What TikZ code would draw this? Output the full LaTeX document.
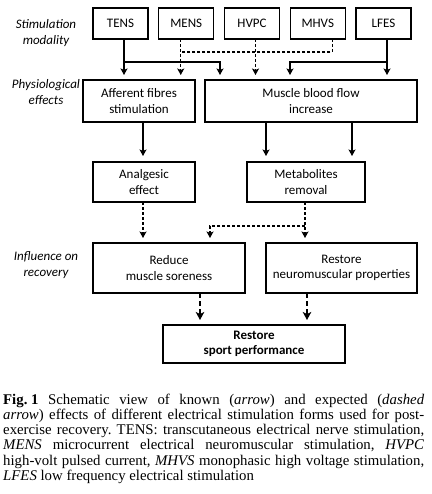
\documentclass[tikz,border=0pt]{standalone}
\usepackage{fontspec}
\setmainfont{Carlito}
\newfontfamily\capfont{Liberation Serif}
\usepackage{tikz}
\usetikzlibrary{positioning,calc,arrows.meta}

\begin{document}
\begin{tikzpicture}[x=1pt, y=-1pt,
  every node/.style={font=\fontsize{13}{15.5}\selectfont, text=black},
  box/.style    ={draw, line width=1.2pt, outer sep=0pt, inner sep=0pt, align=center},
  modbox/.style ={box, minimum width=55pt, minimum height=31pt},
  rowlabel/.style={align=center, font=\fontsize{13}{16}\selectfont\itshape},
  arrow/.style  ={-{Stealth[length=6.5pt,width=7pt,inset=1.5pt]}, line width=1.1pt, shorten >=5pt},
  dasharrow/.style={arrow, dash pattern=on 3pt off 2pt},
  dashline/.style ={line width=1.1pt, dash pattern=on 3pt off 2pt},
  thickarrow/.style={-{Stealth[length=8pt,width=8.5pt,inset=2pt]}, line width=2pt,
                     dash pattern=on 5pt off 3pt, shorten >=5pt},
  captext/.style={font=\capfont\fontsize{14.8}{15.1}\selectfont\frenchspacing, text width=421pt,
                  align=justify, inner sep=0pt, anchor=north west}]
\useasboundingbox (0,0) rectangle (431,494);
% row labels
\node[rowlabel] (lblmod) at (46,33)  {Stimulation\\modality};
\node[rowlabel] (lbleff) at (46,92)  {Physiological\\effects};
\node[rowlabel] (lblrec) at (46,265) {Influence on\\recovery};
% stimulation modalities
\node[modbox] (tens) at (120.5,23.5) {TENS};
\node[modbox, right=10.75pt of tens] (mens) {MENS};
\node[modbox, right=10.75pt of mens] (hvpc) {HVPC};
\node[modbox, right=10.75pt of hvpc] (mhvs) {MHVS};
\node[modbox, right=10.75pt of mhvs] (lfes) {LFES};
% effects
\node[box, minimum width=112pt, minimum height=42pt] (aff) at (139,101) {Afferent fibres\\stimulation};
\node[box, minimum width=212pt, minimum height=42pt, right=10pt of aff] (mbf) {Muscle blood flow\\increase};
\node[box, minimum width=102pt, minimum height=40pt] (anal) at (144,182) {Analgesic\\effect};
\node[box, minimum width=118pt, minimum height=40pt] (meta) at (306,182) {Metabolites\\removal};
% recovery
\node[box, minimum width=152pt, minimum height=50pt] (red) at (169,268) {Reduce\\muscle soreness};
\node[box, minimum width=151pt, minimum height=50pt, right=21pt of red] (rnp) {Restore\\neuromuscular properties};
\node[box, line width=2pt, minimum width=182pt, minimum height=38pt, font=\fontsize{13}{15.5}\selectfont\bfseries] (rsp) at (254,344) {Restore\\sport performance};
% connectors, top row
\coordinate (tensout)  at ($(tens.south)+(3.5,0)$);
\coordinate (tensjoin) at ($(tens.south)+(3.5,23)$);
\coordinate (mensout)  at ($(mens.south)+(-5.5,0)$);
\coordinate (mensjoin) at ($(mens.south)+(-5.5,13)$);
\coordinate (hvpcout)  at ($(hvpc.south)+(3.5,0)$);
\coordinate (mhvsout)  at ($(mhvs.south)+(14.5,0)$);
\coordinate (lfesout)  at ($(lfes.south)+(3.5,0)$);
\coordinate (lfesjoin) at ($(lfes.south)+(3.5,23)$);
\draw[arrow] (tensout) -- (tensout |- aff.north);
\draw[arrow] (tensjoin) -| ($(mbf.north west)+(15,0)$);
\draw[arrow] (lfesout) -- (lfesout |- mbf.north);
\draw[arrow] (lfesjoin) -| ($(mbf.north west)+(85,0)$);
\draw[dasharrow] (mensout) -- (mensout |- aff.north);
\draw[dasharrow] (hvpcout) -- (hvpcout |- mbf.north);
\draw[dashline] (mhvsout) |- (mensjoin);
% connectors, effects
\coordinate (affout) at ($(aff.south)+(4,0)$);
\draw[arrow, shorten >=6pt] (affout) -- (affout |- anal.north);
\foreach \dx [count=\i] in {-45,41} {
  \coordinate (mbfout\i) at ($(mbf.south)+(\dx,0)$);
  \draw[arrow, shorten >=6pt] (mbfout\i) -- (mbfout\i |- meta.north);}
\coordinate (analout)  at ($(anal.south)+(-1,0)$);
\coordinate (metaout)  at ($(meta.south)+(-1,0)$);
\coordinate (metajoin) at ($(meta.south)+(-1,24)$);
\draw[dasharrow] (analout) -- (analout |- red.north);
\draw[dasharrow] (metaout) -- (metaout |- rnp.north);
\draw[dasharrow] (metajoin) -| ($(red.north west)+(117,0)$);
% connectors, recovery
\coordinate (redout) at ($(red.south)+(31,0)$);
\coordinate (rnpout) at ($(rnp.south)+(-34.5,0)$);
\draw[thickarrow] (redout) -- (redout |- rsp.north);
\draw[thickarrow] (rnpout) -- (rnpout |- rsp.north);
% caption
\node[captext] (cap) at (3,394) {\mbox{\textbf{Fig.~1}} Schematic view of known (\textit{arrow}) and expected (\textit{dashed}\linebreak
\textit{arrow}) effects of different electrical stimulation forms used for post-\linebreak
exercise recovery. TENS: transcutaneous electrical nerve stimulation,\linebreak
\textit{MENS} microcurrent electrical neuromuscular stimulation, \textit{HVPC}\linebreak
high-volt pulsed current, \textit{MHVS} monophasic high voltage stimulation,\linebreak
\textit{LFES} low frequency electrical stimulation};
\end{tikzpicture}
\end{document}
